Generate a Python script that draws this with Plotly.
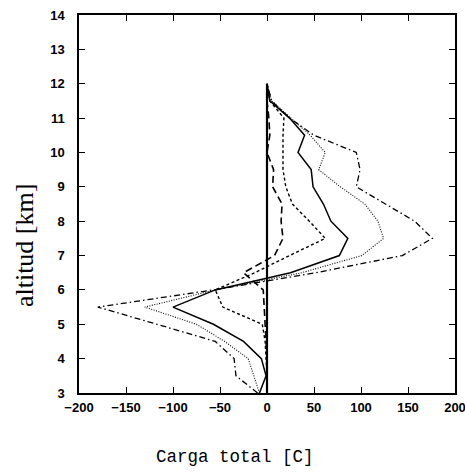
import plotly.graph_objects as go

# Altitude levels (km)
altitud = [3.0, 3.5, 4.0, 4.5, 5.0, 5.5, 6.0, 6.5, 7.0, 7.5, 8.0, 8.5, 9.0, 9.5, 10.0, 10.5, 11.0, 11.5, 12.0]

# Total charge profiles (C)
carga_cero = [0, 0, 0, 0, 0, 0, 0, 0, 0, 0, 0, 0, 0, 0, 0, 0, 0, 0, 0]
carga_longdash = [0, 0, 0, -1, -2, -3, -4, -25, 8, 17, 15, 16, 6, 7, 0, 3, 2, 0, 0]
carga_dash = [0, 0, -1, -2, -5, -47, -55, -13, 24, 62, 45, 27, 20, 17, 17, 17, 18, 3, 0]
carga_solid = [-8, -1, -6, -25, -57, -100, -55, 25, 77, 86, 68, 60, 49, 47, 33, 40, 24, 3, 0]
carga_dot = [-8, -14, -20, -45, -75, -130, -55, 37, 101, 124, 118, 104, 78, 55, 62, 46, 25, 5, 0]
carga_dashdot = [-10, -33, -35, -55, -117, -180, -57, 52, 144, 176, 157, 126, 95, 99, 95, 50, 24, 5, 0]

x_ticks = [-200, -150, -100, -50, 0, 50, 100, 150, 200]
y_ticks = [3, 4, 5, 6, 7, 8, 9, 10, 11, 12, 13, 14]

fig = go.Figure()
series = [
    (carga_cero, "solid", 2.2),
    (carga_longdash, "7px,4px", 1.6),
    (carga_dash, "3px,2.5px", 1.4),
    (carga_solid, "solid", 1.5),
    (carga_dot, "1px,1.5px", 1.1),
    (carga_dashdot, "6px,3px,1.5px,3px", 1.3),
]
for vals, dash, w in series:
    fig.add_trace(go.Scatter(x=vals, y=altitud, mode="lines",
                             line=dict(color="black", width=w, dash=dash),
                             showlegend=False, hoverinfo="skip"))

axis_common = dict(showgrid=False, zeroline=False, showline=True, linecolor="black",
                   linewidth=1.5, mirror="ticks", ticks="inside", ticklen=6,
                   tickwidth=1.3, tickcolor="black", automargin=False,
                   ticklabeloverflow="allow",
                   tickfont=dict(family="Liberation Sans", size=13, color="black", weight="bold"))

fig.update_xaxes(range=[-200, 200], tickvals=x_ticks,
                 ticktext=[("\u2212" + str(-t)) if t < 0 else str(t) for t in x_ticks],
                 ticklabelstandoff=2, **axis_common)
fig.update_yaxes(range=[3, 14], tickvals=y_ticks, ticklabelstandoff=10, **axis_common)

fig.add_annotation(text="altitud [km]", xref="paper", yref="paper",
                   x=-0.145, y=0.39, textangle=-90, showarrow=False,
                   font=dict(family="Liberation Serif", size=26, color="black"),
                   xanchor="center", yanchor="middle")
fig.add_annotation(text="Carga total [C]", xref="paper", yref="paper",
                   x=0.415, y=-0.17, showarrow=False,
                   font=dict(family="Liberation Mono", size=17.5, color="black"),
                   xanchor="center", yanchor="middle")

fig.update_layout(width=465, height=473, margin=dict(l=79, r=10, t=15, b=80),
                  plot_bgcolor="white", paper_bgcolor="white")

fig.write_html("out.html", config={"displayModeBar": False},
               post_script="document.body.style.margin='0';document.body.style.overflow='hidden';")
